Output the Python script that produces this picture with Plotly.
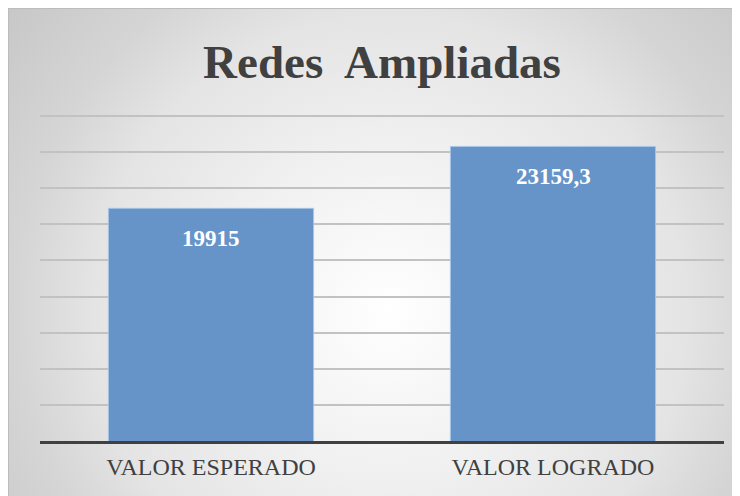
import base64
import plotly.graph_objects as go

# ---- data ----
categories = ["VALOR ESPERADO", "VALOR LOGRADO"]
values = [19915, 23159.3]
value_labels = ["19915", "23159,3"]
title_text = "Redes  Ampliadas"

# ---- layout geometry (figure is shown with an 8px page offset) ----
W, H = 740, 496
ML, MR, MT, MB = 32, 24, 105, 63
plot_w = W - ML - MR
plot_h = H - MT - MB

y_min = 7716
n_grid = 9
dtick = 1893
y_max = y_min + n_grid * dtick + 158

# background gradient as svg covering the whole figure
svg = f'''<svg xmlns="http://www.w3.org/2000/svg" width="{W}" height="{H}" viewBox="0 0 {W} {H}">
<defs><radialGradient id="g" gradientUnits="userSpaceOnUse" cx="382" cy="302" r="480">
<stop offset="0" stop-color="#ffffff"/>
<stop offset="0.35" stop-color="#f0f0f0"/>
<stop offset="0.62" stop-color="#e4e4e4"/>
<stop offset="0.78" stop-color="#d5d5d5"/>
<stop offset="1" stop-color="#c8c8c8"/>
</radialGradient></defs>
<rect x="0" y="0" width="{W}" height="{H}" fill="url(#g)"/>
<rect x="0.5" y="0.5" width="{W-1}" height="{H-1}" fill="none" stroke="#bcbcbc" stroke-width="1"/>
</svg>'''
src = "data:image/svg+xml;base64," + base64.b64encode(svg.encode()).decode()

fig = go.Figure()
fig.add_trace(go.Bar(
    x=categories, y=values,
    marker=dict(color="rgb(103,148,200)", line=dict(color="rgba(170,200,235,0.8)", width=1)),
    width=0.6, hoverinfo="skip",
))

for c, v, t in zip(categories, values, value_labels):
    fig.add_annotation(x=c, y=v, text=f"<b>{t}</b>", showarrow=False,
                       xref="x", yref="y", yanchor="middle", yshift=-30,
                       font=dict(family="Liberation Serif", size=23, color="white"))

fig.add_layout_image(dict(
    source=src, xref="paper", yref="paper",
    x=(0 - ML) / plot_w, y=(H - MB) / plot_h,
    sizex=W / plot_w, sizey=H / plot_h,
    xanchor="left", yanchor="top", sizing="stretch", layer="below",
))

fig.update_layout(
    width=W, height=H,
    margin=dict(l=ML, r=MR, t=MT, b=MB, pad=0),
    paper_bgcolor="white", plot_bgcolor="rgba(0,0,0,0)",
    showlegend=False,
    title=dict(text=f"<b>{title_text}</b>", x=0.5, xref="paper", xanchor="center",
               y=1 - 54 / H, yref="container", yanchor="middle",
               font=dict(family="Liberation Serif", size=47, color="#404040")),
    xaxis=dict(showline=True, linecolor="#404040", linewidth=3, ticks="",
               tickfont=dict(family="Liberation Serif", size=24, color="#404040"),
               showgrid=False, zeroline=False, fixedrange=True, ticklabelstandoff=2),
    yaxis=dict(range=[y_min, y_max], tick0=y_min, dtick=dtick, showticklabels=False,
               showgrid=True, gridcolor="#c2c2c2", gridwidth=1.5, zeroline=False,
               showline=False, fixedrange=True),
    bargap=0.4,
)

fig.write_html("out.html")
